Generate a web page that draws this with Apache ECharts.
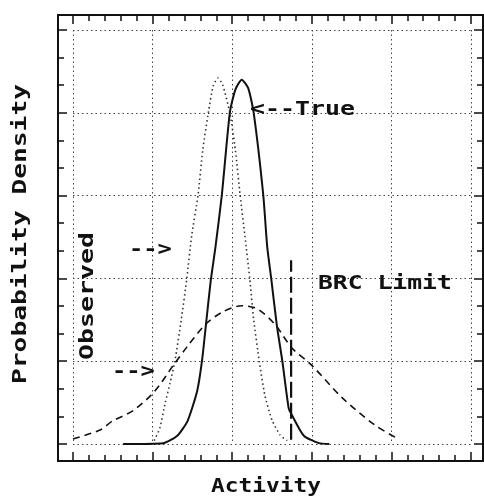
<!DOCTYPE html>
<html>
<head>
<meta charset="utf-8">
<script src="https://cdn.jsdelivr.net/npm/echarts@6/dist/echarts.min.js"></script>
<style>
  html, body { margin: 0; padding: 0; background: #fff; }
  #chart { width: 484px; height: 496px; }
</style>
</head>
<body>
<div id="chart"></div>
<script>
// curves, [activity, density]
const trueCurve = [
  [0.63, 0], [1.13, 0.01], [1.31, 0.10], [1.44, 0.28], [1.56, 0.64], [1.62, 1.00],
  [1.67, 1.44], [1.73, 1.97], [1.79, 2.38], [1.87, 3.01], [1.97, 4.00], [2.04, 4.28],
  [2.12, 4.40], [2.20, 4.30], [2.27, 4.00], [2.39, 3.01], [2.44, 2.38], [2.49, 2.00],
  [2.56, 1.44], [2.63, 1.00], [2.71, 0.43], [2.75, 0.35], [2.90, 0.10], [3.09, 0.01],
  [3.22, 0]
];
const narrowCurve = [
  [1.02, 0.04], [1.09, 0.19], [1.16, 0.50], [1.22, 0.74], [1.28, 1.00], [1.36, 1.50],
  [1.43, 2.00], [1.49, 2.51], [1.57, 3.00], [1.63, 3.55], [1.70, 4.00], [1.76, 4.32],
  [1.82, 4.42], [1.88, 4.34], [1.97, 4.00], [2.04, 3.55], [2.10, 3.00], [2.16, 2.51],
  [2.22, 2.00], [2.27, 1.50], [2.34, 1.00], [2.41, 0.59], [2.50, 0.29], [2.60, 0.11],
  [2.69, 0.04]
];
const wideCurve = [
  [0, 0.06], [0.34, 0.17], [0.50, 0.28], [0.75, 0.40], [1.02, 0.63], [1.26, 0.95],
  [1.43, 1.17], [1.66, 1.44], [1.87, 1.59], [2.12, 1.67], [2.32, 1.63], [2.54, 1.44],
  [2.75, 1.16], [3.00, 0.95], [3.38, 0.56], [3.79, 0.23], [4.07, 0.07]
];
const brcLimit = [[2.74, 0.05], [2.74, 2.22]];

const labels = {
  yName: 'Probability Density',
  xName: 'Activity',
  observed: 'Observed',
  trueTag: '<--True',
  brc: 'BRC Limit',
  arrow: '-->'
};

const FONT = 'bold 19px "DejaVu Sans Mono"';
const INK = '#111';

function txt(text, x, y, opts) {
  opts = opts || {};
  return {
    type: 'text',
    x: x, y: y,
    rotation: opts.rotation || 0,
    scaleX: opts.scale || 1.3,
    z: 100,
    style: {
      text: text, font: FONT, fill: INK,
      align: opts.align || 'center', verticalAlign: 'middle',
      textAlign: opts.align || 'center', textVerticalAlign: 'middle'
    }
  };
}

const gridLine = { show: true, lineStyle: { color: '#444', width: 1, type: [1.5, 3] } };
const tick = { show: true, inside: true, length: 9, lineStyle: { color: INK, width: 1.5 } };
const minor = n => ({ show: true, splitNumber: n, length: 6, lineStyle: { color: INK, width: 1.5 } });

// axis that only draws ticks on the frame edge
function tickAxis(grid, pos, n) {
  return {
    gridIndex: grid, type: 'value', min: 0, max: 5, interval: 1, position: pos,
    axisLine: { show: false }, axisTick: tick, minorTick: minor(n),
    axisLabel: { show: false }, splitLine: { show: false }
  };
}

const chart = echarts.init(document.getElementById('chart'));
chart.setOption({
  animation: false,
  backgroundColor: '#fff',
  grid: [
    { left: 58, top: 15, width: 425, height: 446, show: true, borderColor: INK, borderWidth: 2, backgroundColor: 'transparent' },
    { left: 73, top: 30, width: 398, height: 414 },
    { left: 73, top: 15, width: 398, height: 446 },
    { left: 58, top: 30, width: 425, height: 414 }
  ],
  xAxis: [
    { gridIndex: 0, type: 'value', min: 0, max: 1, show: false },
    { gridIndex: 1, type: 'value', min: 0, max: 5, interval: 1,
      axisLine: { show: false }, axisTick: { show: false }, axisLabel: { show: false },
      splitLine: gridLine },
    tickAxis(2, 'bottom', 5),
    tickAxis(2, 'top', 5),
    { gridIndex: 3, type: 'value', min: 0, max: 1, show: false }
  ],
  yAxis: [
    { gridIndex: 0, type: 'value', min: 0, max: 1, show: false },
    { gridIndex: 1, type: 'value', min: 0, max: 5, interval: 1,
      axisLine: { show: false }, axisTick: { show: false }, axisLabel: { show: false },
      splitLine: gridLine },
    { gridIndex: 2, type: 'value', min: 0, max: 1, show: false },
    tickAxis(3, 'left', 3),
    tickAxis(3, 'right', 3)
  ],
  series: [
    { name: 'True', type: 'line', xAxisIndex: 1, yAxisIndex: 1, data: trueCurve, showSymbol: false,
      smooth: 0.2, lineStyle: { color: INK, width: 2 }, z: 5 },
    { name: 'Observed narrow', type: 'line', xAxisIndex: 1, yAxisIndex: 1, data: narrowCurve, showSymbol: false,
      smooth: 0.2, lineStyle: { color: '#333', width: 1.6, type: [1.5, 3] }, z: 4 },
    { name: 'Observed wide', type: 'line', xAxisIndex: 1, yAxisIndex: 1, data: wideCurve, showSymbol: false,
      smooth: 0.3, lineStyle: { color: INK, width: 1.6, type: [7, 5] }, z: 4 },
    { name: 'BRC Limit', type: 'line', xAxisIndex: 1, yAxisIndex: 1, data: brcLimit, showSymbol: false,
      lineStyle: { color: INK, width: 2.2, type: [16, 5] }, z: 6 }
  ],
  graphic: [
    txt(labels.yName, 21, 234, { rotation: Math.PI / 2, scale: 1.38 }),
    txt(labels.xName, 266, 487, { scale: 1.2 }),
    txt(labels.observed, 88, 296, { rotation: Math.PI / 2, scale: 1.4 }),
    txt(labels.trueTag, 250, 110, { align: 'left', scale: 1.31 }),
    txt(labels.brc, 318, 284, { align: 'left', scale: 1.3 }),
    txt(labels.arrow, 129, 250, { align: 'left', scale: 1.25 }),
    txt(labels.arrow, 112, 372, { align: 'left', scale: 1.25 })
  ]
});
</script>
</body>
</html>
